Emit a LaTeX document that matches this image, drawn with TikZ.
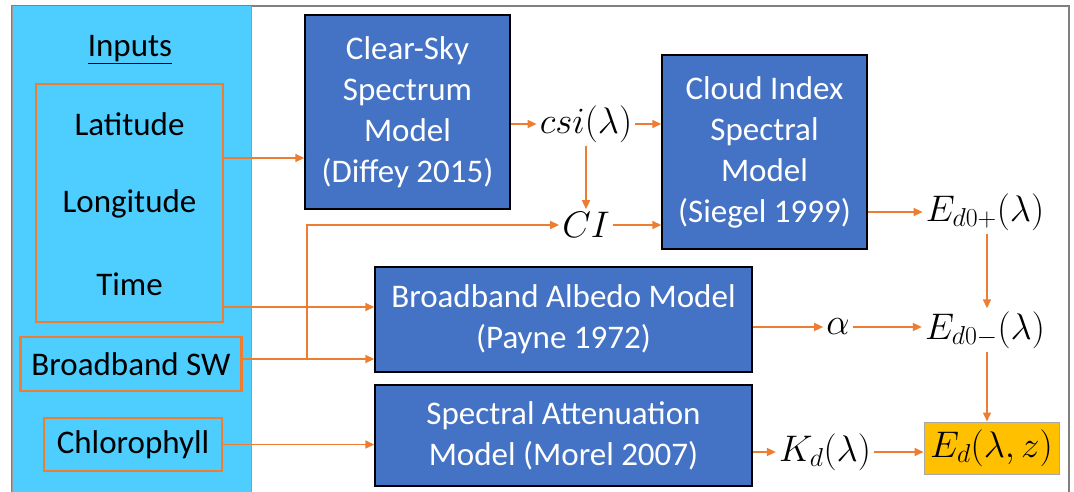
\RequirePackage{fix-cm}
\documentclass[tikz,border=0pt]{standalone}
\usepackage{fontspec}
\setmainfont{Carlito}
\usetikzlibrary{arrows.meta,calc}
\definecolor{panelcyan}{RGB}{78,206,255}
\definecolor{modelblue}{RGB}{68,114,196}
\definecolor{flow}{RGB}{237,125,49}
\definecolor{result}{RGB}{255,192,0}
\definecolor{framegray}{RGB}{128,128,128}
\tikzset{
  big/.style={font=\fontsize{33}{41}\selectfont},
  mathsize/.style={font=\fontsize{37}{44}\selectfont},
  inbox/.style={draw=flow, line width=2.6pt, fill=panelcyan, inner sep=0pt, big},
  model/.style={draw=black, line width=1.4pt, fill=modelblue, text=white, align=center, inner sep=0pt, big},
  qty/.style={inner sep=3pt, mathsize},
  arr/.style={draw=flow, line width=1.6pt, -{Triangle[length=9pt,width=8pt]}},
}
\begin{document}
\begin{tikzpicture}[x=1pt,y=-1pt]
\useasboundingbox (0,0) rectangle (1074,492);
% frame and input panel
\fill[white] (0,0) rectangle (1074,492);
\draw[framegray, line width=2pt] (12,500) -- (12,6) -- (1069,6) -- (1069,500);
\fill[panelcyan] (12,6) rectangle (251,500);
\draw[framegray!80, line width=0.8pt] (12,6) -- (12,500) (251,6) -- (251,500);

% inputs
\node[big] (title) at (130,50) {\underline{Inputs}};
\node[inbox, minimum width=187pt, minimum height=238pt] (geo) at (129.5,203) {};
\node[big] (lat) at (129.5,124) {Latitude};
\node[big] (lon) at (129.5,204) {Longitude};
\node[big] (time) at (129.5,284) {Time};
\node[inbox, minimum width=221pt, minimum height=54pt] (sw) at (131,364) {Broadband SW};
\node[inbox, minimum width=178pt, minimum height=53pt] (chl) at (133,444.5) {Chlorophyll};

% models
\node[model, minimum width=205pt, minimum height=194pt] (clear) at (407.5,112)
  {Clear-Sky\\Spectrum\\Model\\(Diffey 2015)};
\node[model, minimum width=205pt, minimum height=194pt] (cloud) at (764.5,152)
  {Cloud Index\\Spectral\\Model\\(Siegel 1999)};
\node[model, minimum width=377pt, minimum height=105pt] (albedo) at (563.5,319.5)
  {Broadband Albedo Model\\(Payne 1972)};
\node[model, minimum width=377pt, minimum height=101pt] (spec) at (563.5,435.5)
  {Spectral Attenuation\\Model (Morel 2007)};

% quantities
\node[qty] (csi) at (586,124) {$csi(\lambda)$};
\node[qty] (ci) at (586,225) {$CI$};
\node[qty] (edp) at (985,212) {$E_{d0+}(\lambda)$};
\node[qty] (alpha) at (838,327) {$\alpha$};
\node[qty] (edm) at (985,330) {$E_{d0-}(\lambda)$};
\node[qty] (kd) at (825,452) {$K_d(\lambda)$};
\node[draw=framegray!70, line width=1pt, fill=result, inner sep=0pt,
      minimum width=135pt, minimum height=52pt, mathsize] (edz) at (991.5,448) {$E_d(\lambda,z)$};
\coordinate (col) at (987,0);

% input flows
\draw[arr] (geo.east |- 0,158) -- (clear.west |- 0,158);
\draw[arr] (geo.east |- 0,307) -- (albedo.west |- 0,307);
\draw[arr] (sw.east |- 0,359) -- (albedo.west |- 0,359);
\coordinate (split) at (307,359);
\draw[arr] (split) |- (ci.west);
\draw[arr] (chl.east) -- (spec.west |- chl.east);

% model chain
\draw[arr] (clear.east |- csi.west) -- (csi.west);
\draw[arr] (csi.east) -- (cloud.west |- csi.east);
\draw[arr] (csi.south) -- (ci.north);
\draw[arr] (ci.east) -- (cloud.west |- ci.east);
\draw[arr] (cloud.east |- edp.west) -- (edp.west);
\draw[arr] (col |- edp.south) -- (col |- edm.north);
\draw[arr] (albedo.east |- alpha.west) -- (alpha.west);
\draw[arr] (alpha.east) -- (edm.west |- alpha.east);
\draw[arr] (col |- edm.south) -- (col |- edz.north);
\draw[arr] (spec.east |- kd.west) -- (kd.west);
\draw[arr] (kd.east) -- (edz.west |- kd.east);
\end{tikzpicture}
\end{document}
